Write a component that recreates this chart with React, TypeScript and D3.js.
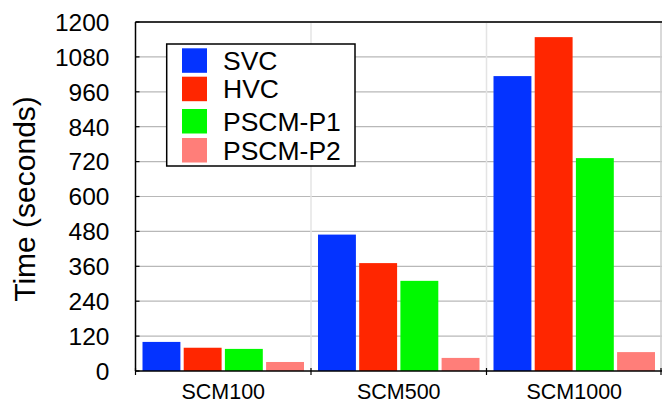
import React from "react";
import * as d3 from "d3";

const categories = ["SCM100", "SCM500", "SCM1000"];
const seriesNames = ["SVC", "HVC", "PSCM-P1", "PSCM-P2"];
const svcValues = [100, 469, 1014];
const hvcValues = [80, 371, 1148];
const pscmP1Values = [76, 310, 732];
const pscmP2Values = [31, 45, 65];
const yTicks = [0, 120, 240, 360, 480, 600, 720, 840, 960, 1080, 1200];
const colors = ["#0433FF", "#FF2600", "#00F900", "#FF7E79"];

const W = 662;
const H = 403;
const left = 135.5;
const right = 662;
const top = 22;
const bottom = 371;
const font = "'Liberation Sans', Arial, Helvetica, sans-serif";

export default function App() {
  const series = [svcValues, hvcValues, pscmP1Values, pscmP2Values];
  const x0 = d3.scaleBand<string>().domain(categories).range([left, right]).padding(0);
  const bw = x0.bandwidth();
  const x1 = d3.scaleBand<string>().domain(seriesNames).range([7, bw - 7]).paddingInner(0.08);
  const y = d3.scaleLinear().domain([0, 1200]).range([bottom, top]);
  const boundaries = [...categories.map((c) => x0(c) as number), right - 1];

  return (
    <svg
      width={W}
      height={H}
      style={{ position: "absolute", left: 0, top: 0, background: "#fff" }}
      fontFamily={font}
    >
      <rect x={0} y={0} width={W} height={H} fill="#fff" />
      {yTicks.filter((t) => t > 0 && t < 1200).map((t) => (
        <line key={"g" + t} x1={left} x2={right} y1={y(t)} y2={y(t)} stroke="#b8b8b8" strokeWidth={1.2} />
      ))}
      {boundaries.slice(1).map((b, i) => (
        <line key={"v" + i} x1={b} x2={b} y1={top} y2={bottom} stroke={i === 2 ? "#cccccc" : "#e4e4e4"} strokeWidth={1.5} />
      ))}
      {categories.map((c, ci) => (
        <g key={c} transform={`translate(${x0(c)},0)`}>
          {seriesNames.map((s, si) => (
            <rect
              key={s}
              x={x1(s)}
              y={y(series[si][ci])}
              width={x1.bandwidth()}
              height={bottom - y(series[si][ci])}
              fill={colors[si]}
            />
          ))}
        </g>
      ))}
      <line x1={left} x2={right} y1={top} y2={top} stroke="#333" strokeWidth={2} />
      <line x1={left} x2={left} y1={top} y2={bottom} stroke="#000" strokeWidth={1.5} />
      {yTicks.map((t) => (
        <g key={"t" + t}>
          <line x1={left} x2={left + 4} y1={y(t)} y2={y(t)} stroke="#000" strokeWidth={1.2} />
          <text x={109.5} y={y(t)} dy="0.36em" textAnchor="end" fontSize={24.5} fill="#000">
            {t}
          </text>
        </g>
      ))}
      <line x1={left} x2={right} y1={bottom} y2={bottom} stroke="#000" strokeWidth={1.5} />
      {boundaries.map((b, i) => (
        <line key={"bt" + i} x1={b} x2={b} y1={bottom - 3} y2={bottom + 4} stroke="#000" strokeWidth={1.2} />
      ))}
      {categories.map((c) => (
        <text key={"xl" + c} x={(x0(c) as number) + bw / 2} y={398.5} textAnchor="middle" fontSize={21.5} fill="#000">
          {c}
        </text>
      ))}
      <text
        transform={`translate(35,199) rotate(-90)`}
        textAnchor="middle"
        fontSize={30}
        fill="#000"
      >
        Time (seconds)
      </text>
      <g>
        <rect x={166.7} y={44} width={188.3} height={122} fill="#fff" stroke="#000" strokeWidth={1.5} />
        {seriesNames.map((s, i) => {
          const rowY = [48.3, 76.7, 109, 138][i];
          return (
            <g key={"lg" + s}>
              <rect x={182} y={rowY} width={25} height={24.5} fill={colors[i]} />
              <text x={223} y={rowY + 21.5} fontSize={26.5} fill="#000">
                {s}
              </text>
            </g>
          );
        })}
      </g>
    </svg>
  );
}
